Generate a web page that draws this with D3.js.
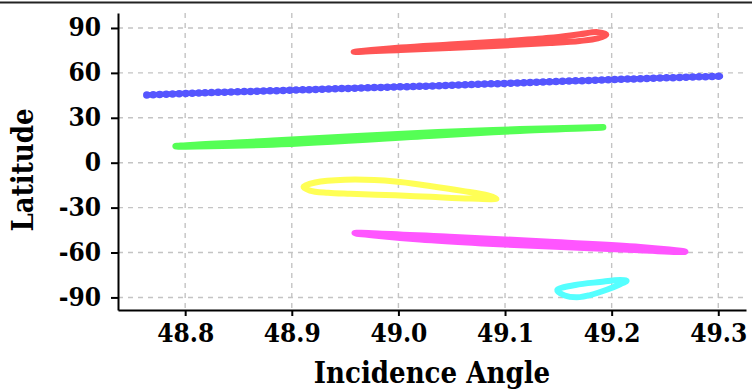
<!DOCTYPE html>
<html>
<head>
<meta charset="utf-8">
<script src="https://cdn.jsdelivr.net/npm/d3@7"></script>
<style>
  html, body { margin: 0; padding: 0; background: #fff; }
  svg { display: block; }
  .lbl { font-family: 'DejaVu Serif Condensed', 'DejaVu Serif', serif; font-stretch: condensed; font-weight: bold; fill: #000; }
</style>
</head>
<body>
<svg id="chart" width="752" height="392"></svg>
<script>
// ---- data ----
const xTicks = [48.8, 48.9, 49.0, 49.1, 49.2, 49.3];
const yTicks = [-90, -60, -30, 0, 30, 60, 90];
const xDomain = [48.737, 49.326];
const yDomain = [-98.4, 100];

const redLoop = [
  [48.958, 74.0], [49.002, 76.9], [49.048, 78.9], [49.095, 80.9], [49.142, 83.4],
  [49.170, 85.8], [49.187, 87.2], [49.195, 85.5],
  [49.187, 83.0], [49.170, 81.3], [49.142, 79.9], [49.095, 78.2],
  [49.048, 76.7], [49.002, 75.3]
];
const blueTrack = [
  [48.764, 45.3], [48.814, 46.6], [48.898, 48.4], [49.002, 50.7],
  [49.030, 51.2], [49.123, 53.6], [49.217, 55.9], [49.302, 57.8]
];
const greenLoop = [
  [48.791, 11.0], [48.882, 14.6], [49.037, 20.3], [49.114, 22.3], [49.192, 23.6],
  [49.114, 21.4], [49.037, 18.4], [48.882, 12.2]
];
const yellowLoop = [
  [48.911, -16.1], [48.922, -13.2], [48.950, -11.4], [48.997, -12.5], [49.028, -15.4],
  [49.060, -18.8], [49.084, -21.8], [49.092, -24.0],
  [49.067, -23.9], [49.030, -22.8], [48.997, -21.8], [48.955, -20.8],
  [48.934, -20.1], [48.917, -18.6]
];
const magentaLoop = [
  [48.959, -47.0], [49.048, -49.6], [49.142, -53.0], [49.227, -56.4], [49.269, -59.5],
  [49.227, -58.4], [49.142, -55.8], [49.079, -53.8], [49.020, -51.2]
];
const cyanLoop = [
  [49.149, -85.1], [49.166, -81.7], [49.189, -79.7], [49.208, -78.4], [49.214, -78.9],
  [49.208, -81.2], [49.196, -84.7], [49.180, -88.4], [49.170, -89.8], [49.156, -88.7]
];

const series = [
  { name: "red", pts: redLoop, color: "#ff5555", closed: true, width: 6 },
  { name: "blue", pts: blueTrack, color: "#5555ff", closed: false, dotted: true, width: 5.5 },
  { name: "green", pts: greenLoop, color: "#55ff55", closed: true, width: 6.5 },
  { name: "yellow", pts: yellowLoop, color: "#ffff55", closed: true, width: 6 },
  { name: "magenta", pts: magentaLoop, color: "#ff55ff", closed: true, width: 6.5 },
  { name: "cyan", pts: cyanLoop, color: "#55ffff", closed: true, width: 6 }
];

// ---- layout ----
(function () {
const svg = d3.select("#chart");
const mLeft = 118, mRight = 746, mTop = 13, mBottom = 310;
const x = d3.scaleLinear().domain(xDomain).range([mLeft, mRight]);
const y = d3.scaleLinear().domain(yDomain).range([mBottom, mTop]);

// top border line
svg.append("line").attr("x1", 0).attr("x2", 752).attr("y1", 2.5).attr("y2", 2.5)
  .attr("stroke", "#222").attr("stroke-width", 2);

// grid
const grid = svg.append("g").attr("stroke", "#c4c4c4").attr("stroke-width", 1.4)
  .attr("stroke-dasharray", "5,5");
grid.selectAll(".gx").data(xTicks).join("line")
  .attr("x1", d => x(d)).attr("x2", d => x(d)).attr("y1", mTop).attr("y2", mBottom);
grid.selectAll(".gy").data(yTicks).join("line")
  .attr("x1", mLeft).attr("x2", 743).attr("y1", d => y(d)).attr("y2", d => y(d));

// series
const lineClosed = d3.line().x(d => x(d[0])).y(d => y(d[1])).curve(d3.curveCatmullRomClosed.alpha(0.5));
const lineOpen = d3.line().x(d => x(d[0])).y(d => y(d[1])).curve(d3.curveCatmullRom.alpha(0.5));
const marks = svg.append("g");
series.forEach(s => {
  const path = s.closed ? lineClosed(s.pts) : lineOpen(s.pts);
  marks.append("path").attr("d", path).attr("fill", "none")
    .attr("stroke", s.color).attr("stroke-width", s.width)
    .attr("stroke-linejoin", "round").attr("stroke-linecap", "round");
  if (s.dotted) {
    marks.append("path").attr("d", path).attr("fill", "none")
      .attr("stroke", s.color).attr("stroke-width", 7.5)
      .attr("stroke-dasharray", "0,6.5").attr("stroke-linecap", "round");
  }
});

// axes
const xAxis = d3.axisBottom(x).tickValues(xTicks).tickFormat(d3.format(".1f")).tickSize(6).tickSizeOuter(0).tickPadding(8);
const yAxis = d3.axisLeft(y).tickValues(yTicks).tickFormat(d => String(d)).tickSize(7).tickSizeOuter(0).tickPadding(10);

const gx = svg.append("g").attr("transform", `translate(0,${mBottom})`).call(xAxis);
const gy = svg.append("g").attr("transform", `translate(${mLeft},0)`).call(yAxis);
[gx, gy].forEach(g => {
  g.select(".domain").attr("stroke", "#000").attr("stroke-width", 2);
  g.selectAll(".tick line").attr("stroke", "#000").attr("stroke-width", 2);
  g.selectAll(".tick text").attr("class", "lbl").attr("font-size", 26).attr("fill", "#000");
});
gx.selectAll(".tick text").attr("dy", "0.7em");
gy.selectAll(".tick text").attr("dy", "0.3em");

// axis titles
svg.append("text").attr("class", "lbl").attr("x", 432).attr("y", 383)
  .attr("text-anchor", "middle").attr("font-size", 29).text("Incidence Angle");
svg.append("text").attr("class", "lbl").attr("transform", "translate(33,170) rotate(-90)")
  .attr("text-anchor", "middle").attr("font-size", 29).text("Latitude");
})();
</script>
</body>
</html>
